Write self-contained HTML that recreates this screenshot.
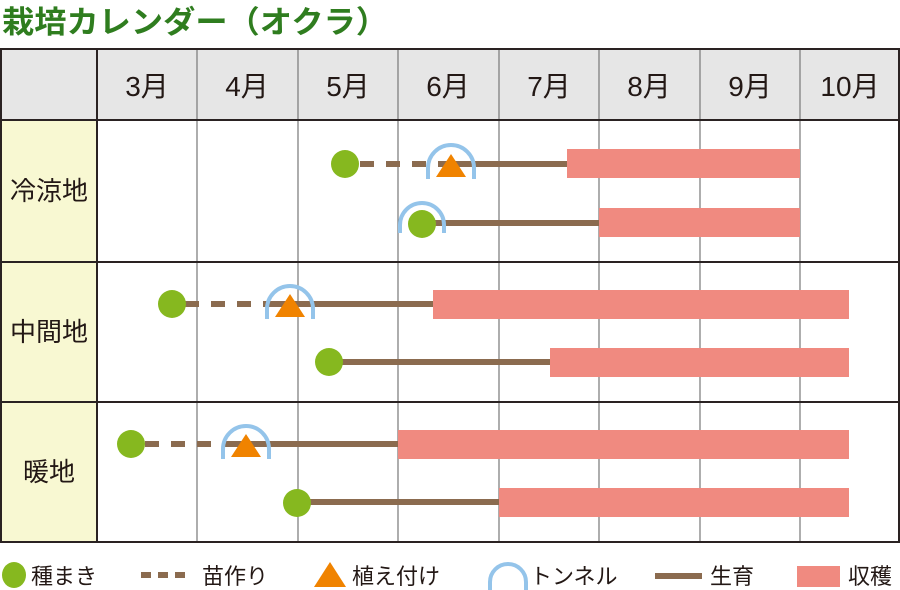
<!DOCTYPE html>
<html><head><meta charset="utf-8"><style>
html,body{margin:0;padding:0;background:#fff;width:900px;height:590px;overflow:hidden}
svg{display:block}
text{font-family:"Liberation Sans","Noto Sans CJK JP",sans-serif}
</style></head><body>
<svg width="900" height="590" viewBox="0 0 900 590" xmlns="http://www.w3.org/2000/svg">
<text x="2" y="33" font-size="31" font-weight="bold" fill="#2f7d1f" textLength="386" lengthAdjust="spacingAndGlyphs">栽培カレンダー（オクラ）</text>
<rect x="0" y="49" width="900" height="71" fill="#e6e6e6"/>
<rect x="0" y="120" width="97" height="422" fill="#f8f8d2"/>
<g stroke="#777" stroke-width="1.2">
<line x1="197" y1="49" x2="197" y2="542"/><line x1="298" y1="49" x2="298" y2="542"/>
<line x1="398" y1="49" x2="398" y2="542"/><line x1="499" y1="49" x2="499" y2="542"/>
<line x1="599" y1="49" x2="599" y2="542"/><line x1="700" y1="49" x2="700" y2="542"/>
<line x1="800" y1="49" x2="800" y2="542"/>
</g>
<g stroke="#2a2222" stroke-width="2">
<line x1="0" y1="49" x2="900" y2="49"/><line x1="0" y1="120" x2="900" y2="120"/>
<line x1="0" y1="262" x2="900" y2="262"/><line x1="0" y1="402" x2="900" y2="402"/>
<line x1="0" y1="542" x2="900" y2="542"/>
<line x1="1" y1="49" x2="1" y2="542"/><line x1="97" y1="49" x2="97" y2="542"/>
<line x1="899" y1="49" x2="899" y2="542"/>
</g>
<g font-size="28" fill="#231815" text-anchor="middle">
<text x="147" y="96">3月</text><text x="247" y="96">4月</text><text x="348" y="96">5月</text>
<text x="448" y="96">6月</text><text x="549" y="96">7月</text><text x="649" y="96">8月</text>
<text x="750" y="96">9月</text><text x="850" y="96">10月</text>
</g>
<g font-size="26" fill="#231815" text-anchor="middle">
<text x="49" y="200">冷涼地</text><text x="49" y="341">中間地</text><text x="49" y="481">暖地</text>
</g>
<g fill="#f08a80">
<rect x="567" y="149" width="233" height="29"/>
<rect x="599" y="208" width="201" height="29"/>
<rect x="433" y="290" width="416" height="29"/>
<rect x="550" y="348" width="299" height="29"/>
<rect x="398" y="430" width="451" height="29"/>
<rect x="499" y="488" width="350" height="29"/>
</g>
<g stroke="#8b6b4f" stroke-width="6">
<line x1="360" y1="164" x2="440" y2="164" stroke-dasharray="14,12"/>
<line x1="440" y1="164" x2="567" y2="164"/>
<line x1="430" y1="223" x2="599" y2="223"/>
<line x1="185" y1="304" x2="272" y2="304" stroke-dasharray="14,12"/>
<line x1="272" y1="304" x2="433" y2="304"/>
<line x1="335" y1="362" x2="550" y2="362"/>
<line x1="145" y1="444" x2="228" y2="444" stroke-dasharray="14,12"/>
<line x1="228" y1="444" x2="398" y2="444"/>
<line x1="305" y1="502" x2="499" y2="502"/>
</g>
<g fill="#f08300">
<polygon points="451,154 436,177 466,177"/>
<polygon points="290,294 275,317 305,317"/>
<polygon points="246,434 231,457 261,457"/>
</g>
<g fill="none" stroke="#94c4ea" stroke-width="4">
<path d="M428,179 L428,168 A23,23 0 0 1 474,168 L474,179"/>
<path d="M400,233 L400,225 A22,22 0 0 1 444,225 L444,233"/>
<path d="M267,319 L267,309 A23,23 0 0 1 313,309 L313,319"/>
<path d="M223,459 L223,449 A23,23 0 0 1 269,449 L269,459"/>
</g>
<g fill="#86b81f">
<circle cx="345" cy="164" r="14"/>
<circle cx="422" cy="224" r="14"/>
<circle cx="172" cy="304" r="14"/>
<circle cx="329" cy="362" r="14"/>
<circle cx="131" cy="444" r="14"/>
<circle cx="297" cy="503" r="14"/>
</g>
<ellipse cx="14" cy="575" rx="12" ry="13" fill="#86b81f"/>
<line x1="141" y1="575" x2="190" y2="575" stroke="#8b6b4f" stroke-width="6" stroke-dasharray="10,7"/>
<polygon points="330,562 314,587 346,587" fill="#f08300"/>
<path d="M490,592 L490,582 A18,18 0 0 1 526,582 L526,592" fill="none" stroke="#94c4ea" stroke-width="4"/>
<line x1="655" y1="576" x2="702" y2="576" stroke="#8b6b4f" stroke-width="6"/>
<rect x="797" y="566" width="43" height="21" fill="#f08a80"/>
<g font-size="22" fill="#231815">
<text x="31" y="584">種まき</text>
<text x="202" y="584">苗作り</text>
<text x="352" y="584">植え付け</text>
<text x="530" y="584">トンネル</text>
<text x="710" y="584">生育</text>
<text x="848" y="584">収穫</text>
</g>
</svg>
</body></html>
